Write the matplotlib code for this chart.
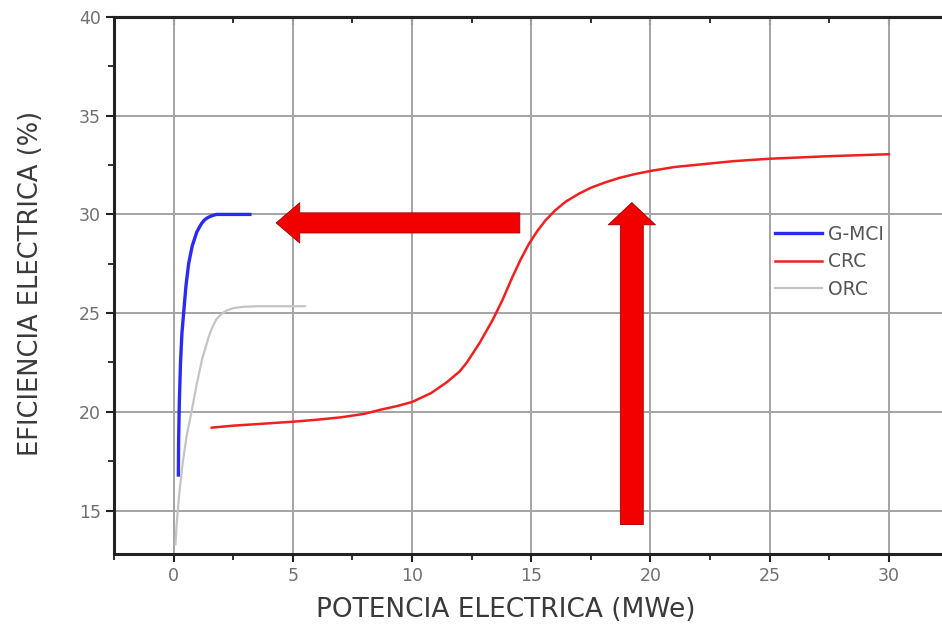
import matplotlib
matplotlib.use("Agg")
import matplotlib.pyplot as plt
from matplotlib.patches import FancyArrowPatch
from matplotlib.patches import ArrowStyle
from matplotlib.ticker import MultipleLocator

plt.rcParams['font.family'] = ['DejaVu Sans']

# Curvas de eficiencia electrica vs potencia
gmci_x = [0.2, 0.21, 0.24, 0.29, 0.35, 0.42, 0.52, 0.63, 0.78, 0.97, 1.08, 1.18, 1.28, 1.38, 1.5, 1.65, 1.8, 2.2, 3.2]
gmci_y = [16.8, 18.5, 20.5, 22.5, 24.0, 25.0, 26.4, 27.5, 28.4, 29.1, 29.35, 29.55, 29.7, 29.8, 29.88, 29.95, 30.0, 30.0, 30.0]

crc_x = [1.6, 2.5, 4, 5, 6, 7, 8, 8.65, 9.4, 10, 10.8, 11.46, 12.0, 12.3, 12.84, 13.39, 13.8, 14.2, 14.55,
         14.9, 15.25, 15.6, 16.0, 16.45, 17.0, 17.5, 18.1, 18.7, 19.3, 20, 21, 22, 23.5, 25, 27.5, 30]
crc_y = [19.2, 19.3, 19.42, 19.5, 19.6, 19.72, 19.9, 20.1, 20.3, 20.5, 20.95, 21.5, 22.05, 22.5, 23.5, 24.67,
         25.68, 26.8, 27.7, 28.5, 29.15, 29.7, 30.2, 30.65, 31.05, 31.35, 31.62, 31.85, 32.03, 32.2, 32.4,
         32.52, 32.7, 32.82, 32.95, 33.05]

orc_x = [0.08, 0.12, 0.17, 0.25, 0.38, 0.55, 0.75, 0.97, 1.2, 1.5, 1.65, 1.8, 2.0, 2.2, 2.5, 2.9, 3.5, 5.5]
orc_y = [13.3, 14.2, 14.9, 16.0, 17.4, 18.8, 20.0, 21.4, 22.7, 23.9, 24.35, 24.7, 24.95, 25.12, 25.25, 25.32,
         25.35, 25.35]

labels = ['G-MCI', 'CRC', 'ORC']

# flechas (inicio, fin) en coordenadas de datos
arrow_h = ((14.52, 29.57), (4.3, 29.57))
arrow_v = ((19.22, 14.29), (19.22, 30.6))

fig = plt.figure(figsize=(9.42, 6.34), dpi=100)
ax = fig.add_axes([114 / 942, 80 / 634, 828 / 942, 537 / 634])

ax.plot(gmci_x, gmci_y, color='#2a2af0', lw=2.4, label=labels[0], zorder=3)
ax.plot(crc_x, crc_y, color='#f02020', lw=1.8, label=labels[1], zorder=3)
ax.plot(orc_x, orc_y, color='#c4c4c4', lw=1.6, label=labels[2], zorder=3)

ax.set_xlim(-2.5, 32.23)
ax.set_ylim(12.8, 40)
ax.set_xticks([0, 5, 10, 15, 20, 25, 30])
ax.set_yticks([15, 20, 25, 30, 35, 40])
ax.xaxis.set_minor_locator(MultipleLocator(2.5))
ax.yaxis.set_minor_locator(MultipleLocator(2.5))

ax.grid(True, which='major', color='#a4a4a4', lw=1.4, zorder=0)

for side in ['left', 'bottom', 'top']:
    ax.spines[side].set_linewidth(2.2)
    ax.spines[side].set_color('#222222')
ax.spines['right'].set_visible(False)

ax.tick_params(which='major', direction='out', length=6, width=1.5, color='#222222',
               labelsize=12.5, labelcolor='#707070')
ax.tick_params(which='minor', direction='out', length=4, width=1.3, color='#222222')

# marcas del eje superior hacia adentro
top = ax.secondary_xaxis('top')
top.set_xticks([0, 5, 10, 15, 20, 25, 30])
top.xaxis.set_minor_locator(MultipleLocator(2.5))
top.tick_params(which='major', direction='in', length=6, width=1.5, color='#222222', labeltop=False)
top.tick_params(which='minor', direction='in', length=4, width=1.3, color='#222222')
top.spines['top'].set_linewidth(2.2)
top.spines['top'].set_color('#222222')

ax.set_xlabel('POTENCIA ELECTRICA (MWe)', fontsize=19, color='#3a3a3a')
ax.xaxis.set_label_coords(0.473, -0.08)
ax.set_ylabel('EFICIENCIA ELECTRICA (%)', fontsize=18.5, color='#3a3a3a')
ax.yaxis.set_label_coords(-0.085, 0.503)

red = '#f20000'
for (a, b), style in [(arrow_h, ArrowStyle.Simple(head_length=17, head_width=29, tail_width=14.5)),
                      (arrow_v, ArrowStyle.Simple(head_length=16, head_width=34, tail_width=16.5))]:
    arr = FancyArrowPatch(a, b, arrowstyle=style, mutation_scale=1, color=red,
                          ec='#a00000', lw=0.6, shrinkA=0, shrinkB=0, zorder=4)
    ax.add_patch(arr)

ax.legend(loc='upper left', bbox_to_anchor=(0.798, 0.613), frameon=False, fontsize=13.5,
          handlelength=2.5, handletextpad=0.32, labelspacing=0.45, borderpad=0, borderaxespad=0,
          labelcolor='#555555')

fig.savefig('out.png', dpi=100)
